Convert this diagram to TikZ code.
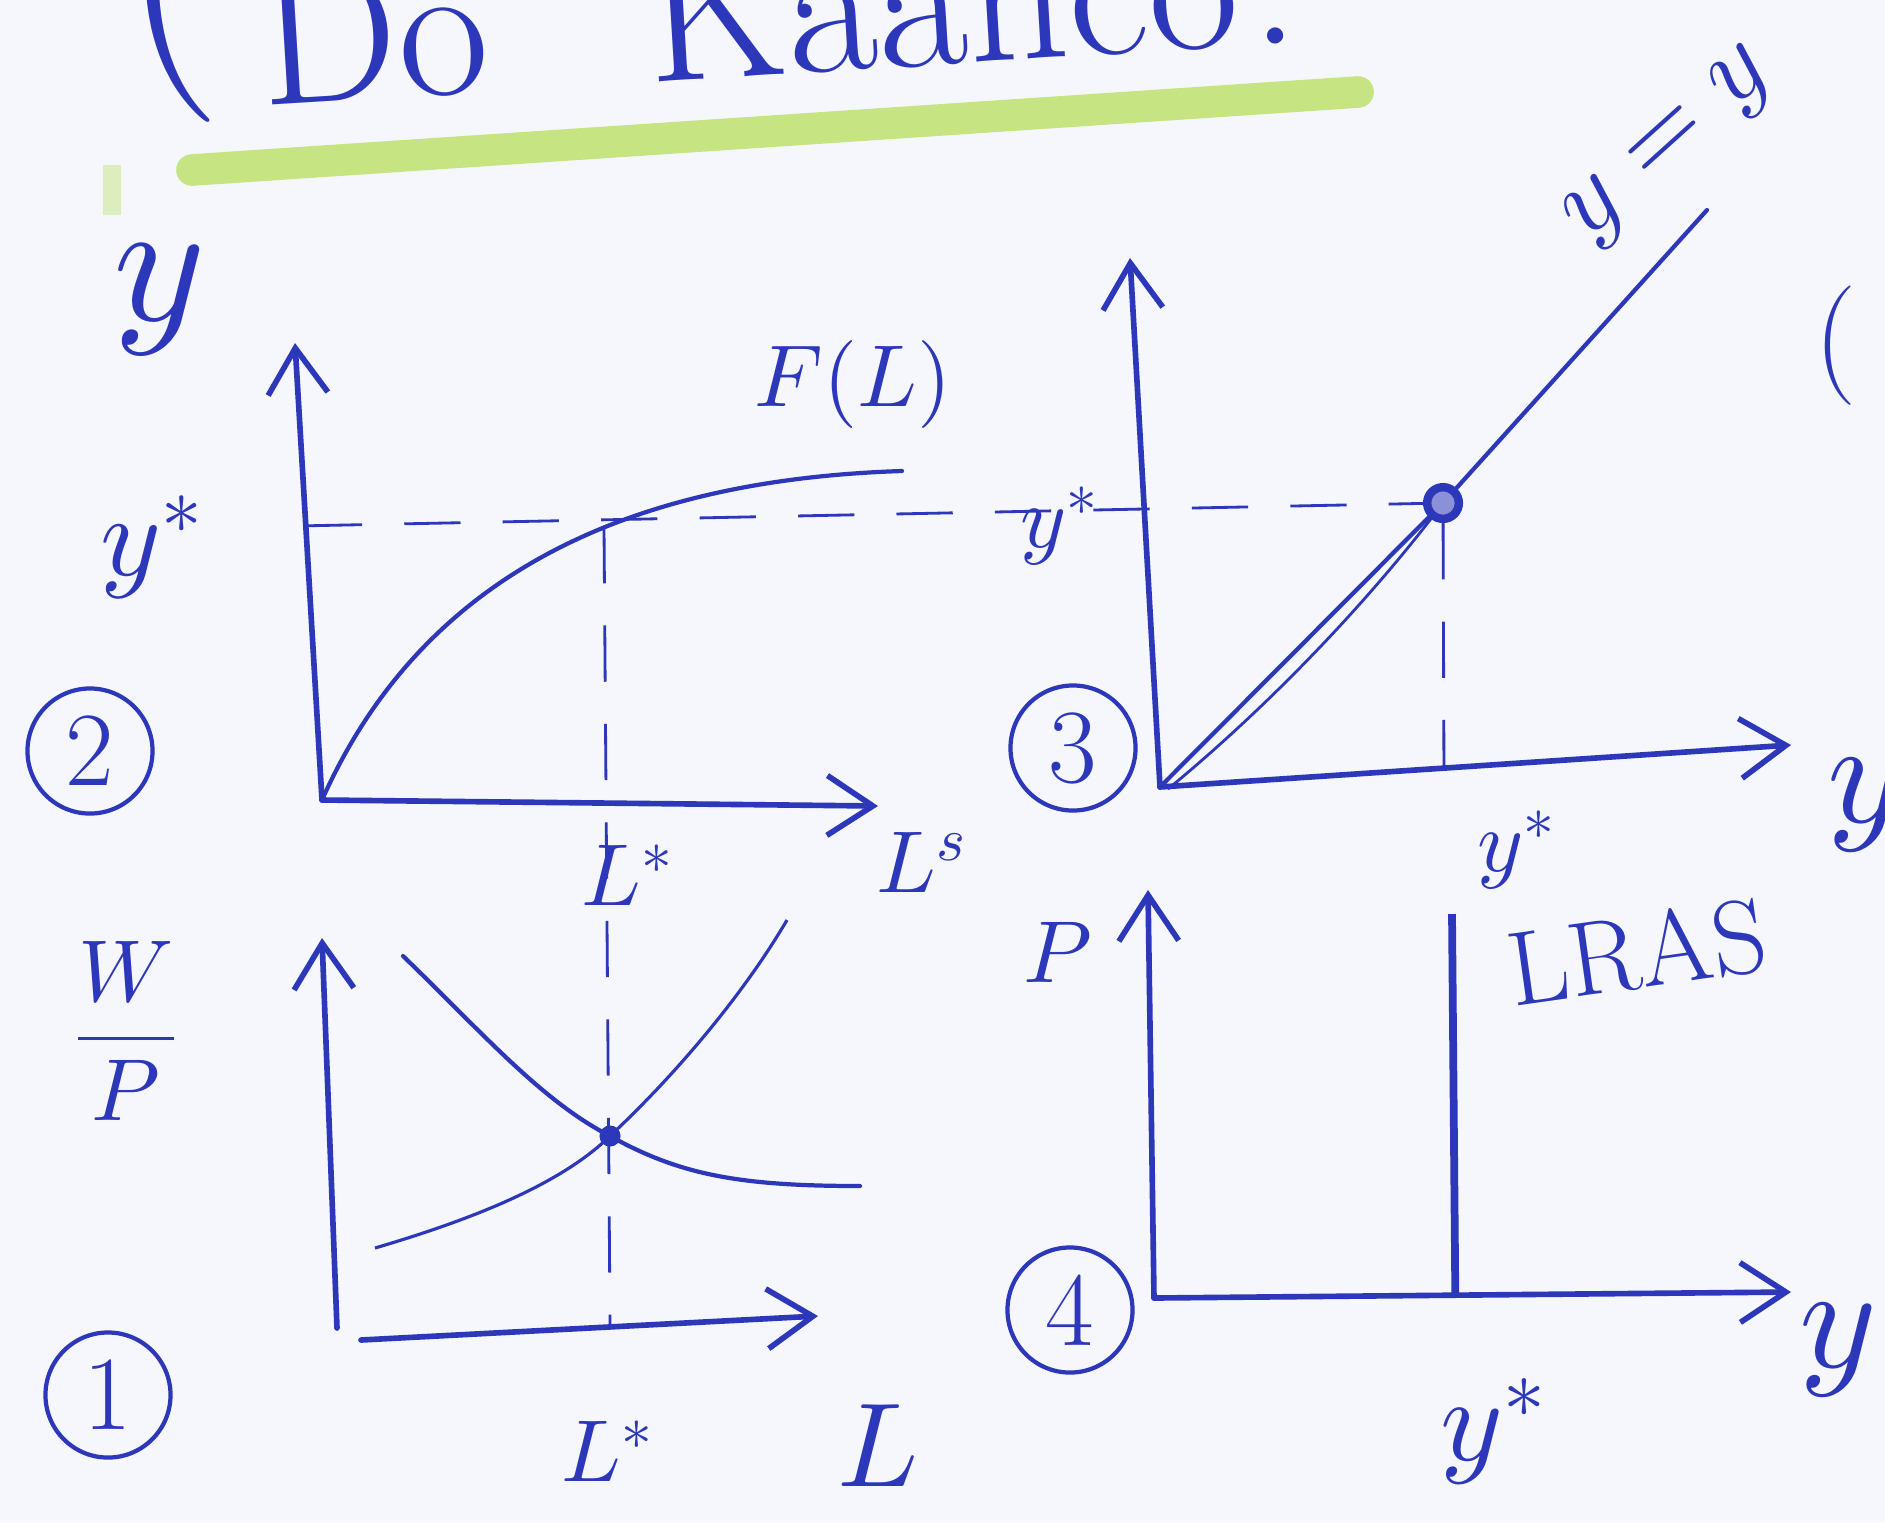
\documentclass[tikz,border=0pt]{standalone}
\usepackage{amsmath}
\usetikzlibrary{arrows.meta, calc, positioning}
% scalable math fonts for the large hand-size labels
\DeclareFontShape{OML}{cmm}{m}{it}{<->cmmi10}{\skewchar\font'177}
\DeclareFontShape{OMS}{cmsy}{m}{n}{<->cmsy10}{\skewchar\font'60}
\DeclareFontShape{OT1}{cmr}{m}{n}{<->cmr10}{}
\definecolor{ink}{RGB}{45,55,185}
\definecolor{marker}{RGB}{198,228,130}
\definecolor{paper}{RGB}{245,247,252}

\begin{document}
\begin{tikzpicture}[x=0.01cm, y=-0.01cm,
    >={Straight Barb[length=13pt, width=17pt]},
    axis/.style={->, draw=ink, line width=1.6pt, line cap=round},
    curve/.style={draw=ink, line width=1.2pt, line cap=round},
    guide/.style={draw=ink, line width=0.8pt, dash pattern=on 16pt off 12pt},
    lbl/.style={text=ink, inner sep=0pt, font=\fontsize{25}{30}\selectfont},
    sized/.style={lbl, font=\fontsize{#1}{#1}\selectfont},
    num/.style={circle, draw=ink, line width=1.2pt, text=ink, inner sep=0pt,
                minimum size=1.25cm, font=\fontsize{30}{36}\selectfont},
    dot/.style={circle, draw=ink, line width=2.4pt, fill=ink!55, inner sep=0pt,
                minimum size=#1}]

  % Sheet
  \useasboundingbox (0,0) rectangle (1885,1523);
  \fill[paper] (0,0) rectangle (1885,1523);

  % Title, cut off at the top of the sheet
  \draw[marker, line width=9pt, line cap=round] (192,170) -- (1358,92);
  \draw[marker, opacity=0.5, line width=5pt] (112,165) -- (112,215);
  \node[sized=84] (paren) at (172,-25) {(};
  \node[sized=56, anchor=base west, rotate=3.5]
    (title) at (262,106) {Do\hspace{0.8em}Kaanco\hspace{0.05em}.};

  % Quadrant 2: production function
  \coordinate (O2) at (322,800);
  \coordinate (Y2) at (295,343);
  \coordinate (X2) at (878,806);
  \coordinate (S2) at ($(O2)!0.6!(Y2)$);
  \coordinate (P2) at (604,527);
  \draw[axis] (O2) -- (Y2);
  \draw[axis] (O2) -- (X2);
  \draw[curve] (O2) .. controls (420,580) and (620,480) .. (902,471);
  \node[sized=50] (yax2) at (160,300) {$y$};
  \node[sized=33] (ystar2) at (152,547) {$y^*$};
  \node[lbl] (FL) at (853,385) {$F(L)$};
  \node[lbl] (Lstar2) at (628,875) {$L^*$};
  \node[lbl] (Ls) at (922,862) {$L^s$};
  \node[num] (n2) at (90,751) {2};

  % Quadrant 3: 45 degree line
  \coordinate (O3) at (1160,787);
  \coordinate (Y3) at (1130,258);
  \coordinate (X3) at (1791,745);
  \coordinate (T3) at (1707,210);
  \coordinate (B3) at ($(O3)!0.45!(X3)$);
  \draw[axis] (O3) -- (Y3);
  \draw[axis] (O3) -- (X3);
  \draw[curve] (O3) -- (1443,503) -- (T3);
  \draw[ink, line width=0.8pt] (1168,789) .. controls (1270,705) and (1370,600) .. (1443,503);
  \node[dot=9pt] (E3) at (1443,503) {};
  \draw[guide] (S2) -- (E3);
  \draw[guide] (E3) -- (B3);
  \node[lbl] (ystar3) at (1060,526) {$y^*$};
  \node[sized=30, rotate=42] (diag) at (1672,148) {$y=y$};
  \node[sized=42] (yax3) at (1866,805) {$y$};
  \node[lbl] (ystar3b) at (1517,850) {$y^*$};
  \node[sized=34] (paren3) at (1836,346) {(};
  \node[num] (n3) at (1073,748) {3};

  % Quadrant 4: long run aggregate supply
  \coordinate (O4) at (1154,1298);
  \coordinate (Y4) at (1148,890);
  \coordinate (X4) at (1791,1292);
  \coordinate (L4b) at ($(O4)!0.473!(X4)$);
  \coordinate (L4t) at (1452,914);
  \draw[axis] (O4) -- (Y4);
  \draw[axis] (O4) -- (X4);
  \draw[ink, line width=2.2pt] (L4b) -- (L4t);
  \node[lbl] (P4) at (1058,952) {$P$};
  \node[sized=30, rotate=8] (LRAS) at (1637,952) {LRAS};
  \node[sized=34] (ystar4) at (1494,1431) {$y^*$};
  \node[sized=42] (yax4) at (1838,1350) {$y$};
  \node[num] (n4) at (1070,1310) {4};

  % Quadrant 1: labour market
  \coordinate (A1) at (337,1328);
  \coordinate (Y1) at (322,938);
  \coordinate (B1) at (361,1340);
  \coordinate (X1) at (818,1316);
  \coordinate (G1) at ($(B1)!0.545!(X1)$);
  \node[circle, fill=ink, inner sep=0pt, minimum size=6pt] (D1) at (610,1136) {};
  \draw[axis] (A1) -- (Y1);
  \draw[axis] (B1) -- (X1);
  % demand
  \draw[curve] (403,956) .. controls (480,1030) and (540,1100) .. (D1.center)
    .. controls (680,1175) and (740,1186) .. (860,1186);
  % supply
  \draw[ink, line width=0.9pt] (375,1248) .. controls (470,1220) and (560,1185) .. (D1.center)
    .. controls (670,1080) and (740,1000) .. (787,920);
  \draw[guide] (P2) -- (G1);
  \node[lbl] (WP) at (126,1031) {$\dfrac{W}{P}$};
  \node[lbl] (Lstar1) at (608,1451) {$L^*$};
  \node[sized=34] (Lax1) at (878,1446) {$L$};
  \node[num] (n1) at (108,1395) {1};
\end{tikzpicture}
\end{document}
